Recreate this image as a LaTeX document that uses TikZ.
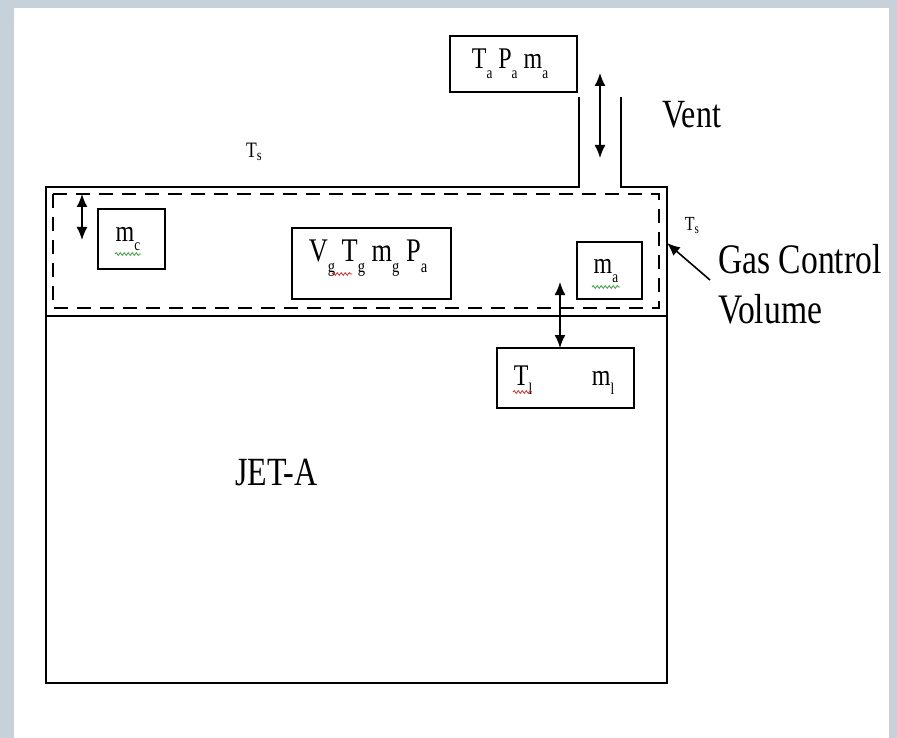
\documentclass[tikz,border=0pt]{standalone}
\usepackage{fontspec}
\setmainfont{Liberation Serif}[FakeStretch=0.8]
\usetikzlibrary{arrows.meta,decorations.pathmorphing}
\definecolor{bgc}{HTML}{C6D1D9}
\definecolor{spellg}{HTML}{3C9A3C}
\definecolor{spellr}{HTML}{D42A2A}
\newcommand\sbx[1]{\raisebox{-0.32em}{\scalebox{0.55}{#1}}}
\begin{document}
\begin{tikzpicture}[x=1pt,y=-1pt,
  ln/.style={line width=1.8pt},
  boxn/.style={draw,line width=1.8pt,inner sep=0pt},
  big/.style={font=\fontsize{40}{46}\selectfont,inner sep=0pt,anchor=base west},
  mid/.style={font=\fontsize{33}{38}\selectfont,inner sep=0pt},
  sml/.style={font=\fontsize{30}{34}\selectfont,inner sep=0pt},
  tiny/.style={font=\fontsize{22}{26}\selectfont,inner sep=0pt},
  dbl/.style={line width=1.6pt,{Latex[length=13pt,width=11pt]}-{Latex[length=13pt,width=11pt]}},
  pointer/.style={line width=1.6pt,-{Latex[length=13pt,width=11pt]}},
  wavyg/.style={spellg,line width=0.8pt,decorate,decoration={snake,amplitude=1.4pt,segment length=4pt}},
  wavyr/.style={spellr,line width=0.8pt,decorate,decoration={snake,amplitude=1.4pt,segment length=4pt}}]
\useasboundingbox (0,0) rectangle (897,738);
\fill[bgc] (0,0) rectangle (897,738);
\fill[white] (14,8) rectangle (889,738);

% tank outline with vent
\draw[ln] (579,97) -- (579,187) -- (46,187) -- (46,683) -- (667,683) -- (667,187) -- (621,187) -- (621,97);
% liquid surface
\draw[ln] (46,316) -- (667,316);
% gas control volume
\draw[line width=1.9pt,dash pattern=on 14pt off 9pt] (53,194) rectangle (659,308);

% boxes
\node[boxn,minimum width=127pt,minimum height=56pt] (amb) at (513.5,64) {};
\node[font=\fontsize{30}{34}\selectfont,inner sep=0pt] (ambt) at (510,64) {T\sbx{a} P\sbx{a} m\sbx{a}};
\node[boxn,minimum width=67pt,minimum height=60pt] (mcb) at (131.5,239) {};
\node[sml] (mct) at (128,239) {m\sbx{c}};
\node[boxn,minimum width=159pt,minimum height=71pt] (gas) at (371.5,263.5) {};
\node[mid] (gast) at (368,258) {V\sbx{g} T\sbx{g} m\sbx{g} P\sbx{a}};
\node[boxn,minimum width=65pt,minimum height=57pt] (mab) at (609.5,270.5) {};
\node[sml] (mat) at (606,271) {m\sbx{a}};
\node[boxn,minimum width=137pt,minimum height=60pt] (liq) at (565.5,378) {};
\node[sml,anchor=base] (tlt) at (523,385) {T\sbx{l}};
\node[sml,anchor=base] (mlt) at (603,385) {m\sbx{l}};

% spell-check squiggles
\draw[wavyg] (115,254) -- (141,254);
\draw[wavyg] (592,287) -- (620,287);
\draw[wavyr] (332,274) -- (352,274);
\draw[wavyr] (513,392) -- (532,392);

% texts
\node[big] (vent) at (662,128) {Vent};
\node[big,font=\fontsize{42}{48}\selectfont] (gcv1) at (718,273) {Gas Control};
\node[big,font=\fontsize{42}{48}\selectfont] (gcv2) at (718,323) {Volume};
\node[big] (jet) at (235,485) {JET-A};
\node[tiny] (ts1) at (254,152) {T\raisebox{-0.15em}{\scalebox{0.7}{s}}};
\node[tiny,font=\fontsize{20}{24}\selectfont] (ts2) at (692,226) {T\raisebox{-0.15em}{\scalebox{0.7}{s}}};

% arrows
\coordinate (v1) at (600,73);
\coordinate (v2) at (600,158);
\draw[dbl] (v1) -- (v2);
\coordinate (c1) at (82,194);
\coordinate (c2) at (82,240);
\draw[dbl] (c1) -- (c2);
\coordinate (e1) at (560,282);
\draw[dbl] (e1) -- (560,348) coordinate (e2);
\coordinate (gp) at (710,280);
\coordinate (gw) at (667,243);
\draw[pointer] (gp) -- (gw);
\end{tikzpicture}
\end{document}
